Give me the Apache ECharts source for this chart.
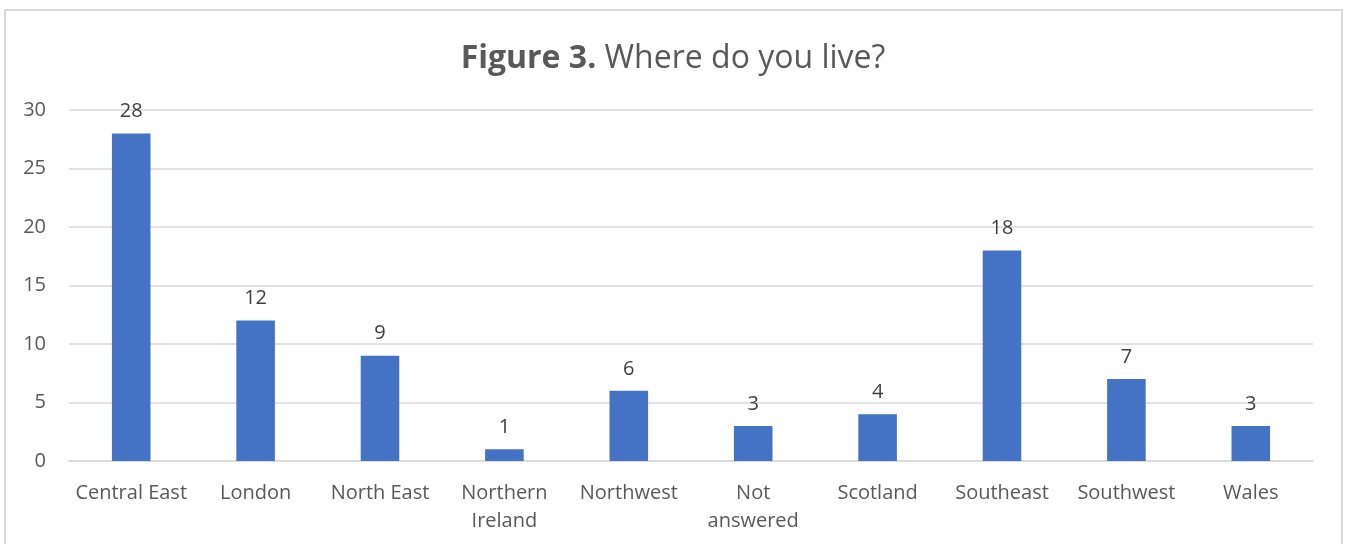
<!DOCTYPE html>
<html><head><meta charset="utf-8">
<script src="https://cdn.jsdelivr.net/npm/echarts@6/dist/echarts.min.js"></script>
<style>html,body{margin:0;padding:0;background:#fff}#c{width:1346px;height:544px}</style>
</head><body><div id="c"></div>
<script>
const categories = ['Central East','London','North East','Northern Ireland','Northwest','Not answered','Scotland','Southeast','Southwest','Wales'];
const tickLabels = ['Central East','London','North East','Northern\nIreland','Northwest','Not\nanswered','Scotland','Southeast','Southwest','Wales'];
const values = [28,12,9,1,6,3,4,18,7,3];
const yTicks = [0,5,10,15,20,25,30];

const FONT = '"Open Sans", Lato, sans-serif';
const chart = echarts.init(document.getElementById('c'));
chart.setOption({
  animation: false,
  title: {
    text: '{b|Figure 3. }{n|Where do you live?}',
    left: 'center', top: 38,
    textStyle: { fontWeight: 'normal', rich: {
      b: { fontFamily: FONT, fontSize: 32, fontWeight: 'bold', color: '#595959' },
      n: { fontFamily: FONT, fontSize: 32, fontWeight: 'normal', color: '#595959' }
    }}
  },
  graphic: [{ type: 'rect', shape: { x: 5, y: 10, width: 1337, height: 600 }, style: { fill: 'none', stroke: '#d9d9d9', lineWidth: 2 }, silent: true }],
  grid: { left: 69, right: 33, top: 110, bottom: 83 },
  xAxis: {
    type: 'category', data: categories,
    axisLine: { lineStyle: { color: '#d9d9d9', width: 1.5 } },
    axisTick: { show: false },
    axisLabel: { interval: 0, color: '#595959', fontFamily: FONT, fontSize: 20, margin: 18, lineHeight: 28,
      formatter: (v, i) => tickLabels[i] }
  },
  yAxis: {
    type: 'value', min: yTicks[0], max: yTicks[yTicks.length-1], interval: 5,
    axisLine: { show: false }, axisTick: { show: false },
    splitLine: { lineStyle: { color: '#d9d9d9', width: 1.5 } },
    axisLabel: { color: '#595959', fontFamily: FONT, fontSize: 20, margin: 23 }
  },
  series: [{
    type: 'bar', data: values, barWidth: '31%',
    itemStyle: { color: '#4472C4' },
    label: { show: true, position: 'top', distance: 12, color: '#404040', fontFamily: FONT, fontSize: 20 }
  }]
});
</script></body></html>
